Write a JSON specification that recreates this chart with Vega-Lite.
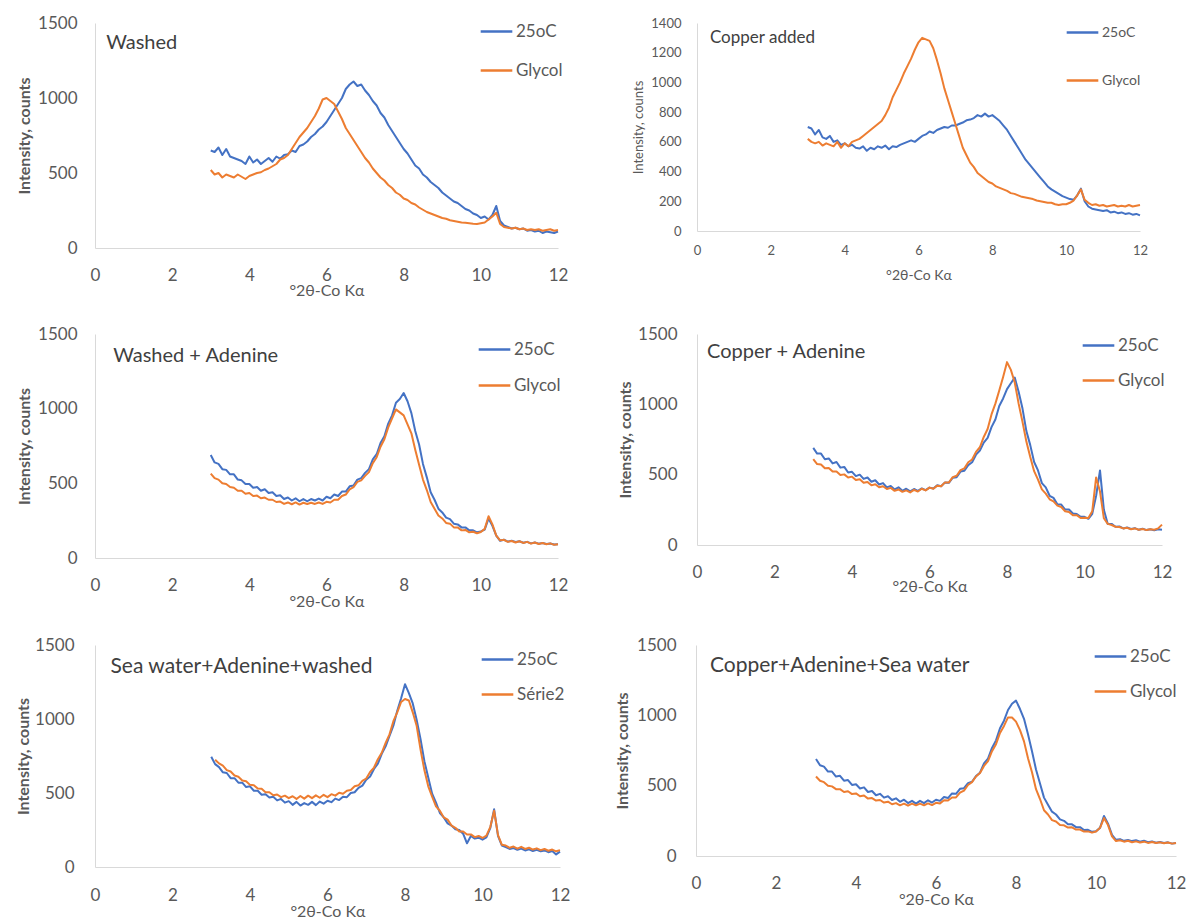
{
"$schema":"https://vega.github.io/schema/vega-lite/v6.json",
"padding":{"left":14,"top":14,"right":0,"bottom":0},
"spacing":27,
"resolve":{"scale":{"color":"independent"},"legend":{"color":"independent"}},
"vconcat":[
{"hconcat":[
{"width":463,"height":225,"layer":[
{"data":{"name":"p1"},"mark":{"type":"line","strokeWidth":2,"strokeJoin":"round"},"encoding":{
"x":{"field":"x","type":"quantitative","scale":{"domain":[0,12],"nice":false},"axis":{"values":[0,2,4,6,8,10,12],"title":"°2θ-Co Kα","labelFontSize":17,"labelPadding":19,"titleFontSize":16,"titleY":42,"titleBaseline":"middle"}},
"y":{"field":"y","type":"quantitative","scale":{"domain":[0,1500],"nice":false},"axis":{"values":[0,500,1000,1500],"format":"d","title":"Intensity, counts","labelFontSize":17,"labelPadding":18,"titleFontSize":16,"titleFontWeight":"bold","titleX":-71,"titleBaseline":"middle"}},
"color":{"field":"s","type":"nominal","scale":{"domain":["25oC","Glycol"],"range":["#4472C4","#ED7D31"]},"legend":{"title":null,"orient":"none","legendX":384,"legendY":-9,"labelFontSize":17,"rowPadding":13}}}},
{"data":{"values":[{"t":"Washed"}]},"mark":{"type":"text","align":"left","baseline":"middle","fontSize":20},"encoding":{
"x":{"datum":0.29,"type":"quantitative","axis":{"values":[0,2,4,6,8,10,12],"title":"°2θ-Co Kα","labelFontSize":17,"labelPadding":19,"titleFontSize":16,"titleY":42,"titleBaseline":"middle"}},
"y":{"datum":1367,"type":"quantitative","axis":{"values":[0,500,1000,1500],"format":"d","title":"Intensity, counts","labelFontSize":17,"labelPadding":18,"titleFontSize":16,"titleFontWeight":"bold","titleX":-71,"titleBaseline":"middle"}},
"text":{"field":"t"}}}
]},
{"width":443,"height":208,"layer":[
{"data":{"name":"p2"},"mark":{"type":"line","strokeWidth":2,"strokeJoin":"round"},"encoding":{
"x":{"field":"x","type":"quantitative","scale":{"domain":[0,12],"nice":false},"axis":{"values":[0,2,4,6,8,10,12],"title":"°2θ-Co Kα","labelFontSize":13,"labelPadding":13,"titleFontSize":14,"titleY":44,"titleBaseline":"middle"}},
"y":{"field":"y","type":"quantitative","scale":{"domain":[0,1400],"nice":false},"axis":{"values":[0,200,400,600,800,1000,1200,1400],"format":"d","title":"Intensity, counts","labelFontSize":13,"labelPadding":16,"titleFontSize":13,"titleX":-59,"titleBaseline":"middle"}},
"color":{"field":"s","type":"nominal","scale":{"domain":["25oC","Glycol"],"range":["#4472C4","#ED7D31"]},"legend":{"title":null,"orient":"none","legendX":368,"legendY":-8,"labelFontSize":14,"rowPadding":23}}}},
{"data":{"values":[{"t":"Copper added"}]},"mark":{"type":"text","align":"left","baseline":"middle","fontSize":17},"encoding":{
"x":{"datum":0.35,"type":"quantitative","axis":{"values":[0,2,4,6,8,10,12],"title":"°2θ-Co Kα","labelFontSize":13,"labelPadding":13,"titleFontSize":14,"titleY":44,"titleBaseline":"middle"}},
"y":{"datum":1299,"type":"quantitative","axis":{"values":[0,200,400,600,800,1000,1200,1400],"format":"d","title":"Intensity, counts","labelFontSize":13,"labelPadding":16,"titleFontSize":13,"titleX":-59,"titleBaseline":"middle"}},
"text":{"field":"t"}}}
]}
],"spacing":64,"resolve":{"scale":{"color":"independent"},"legend":{"color":"independent"}}},
{"hconcat":[
{"width":463,"height":224,"layer":[
{"data":{"name":"p3"},"mark":{"type":"line","strokeWidth":2,"strokeJoin":"round"},"encoding":{
"x":{"field":"x","type":"quantitative","scale":{"domain":[0,12],"nice":false},"axis":{"values":[0,2,4,6,8,10,12],"title":"°2θ-Co Kα","labelFontSize":17,"labelPadding":19,"titleFontSize":16,"titleY":43,"titleBaseline":"middle"}},
"y":{"field":"y","type":"quantitative","scale":{"domain":[0,1500],"nice":false},"axis":{"values":[0,500,1000,1500],"format":"d","title":"Intensity, counts","labelFontSize":17,"labelPadding":18,"titleFontSize":16,"titleFontWeight":"bold","titleX":-71,"titleBaseline":"middle"}},
"color":{"field":"s","type":"nominal","scale":{"domain":["25oC","Glycol"],"range":["#4472C4","#ED7D31"]},"legend":{"title":null,"orient":"none","legendX":382,"legendY":-2,"labelFontSize":17,"rowPadding":10}}}},
{"data":{"values":[{"t":"Washed + Adenine"}]},"mark":{"type":"text","align":"left","baseline":"middle","fontSize":20},"encoding":{
"x":{"datum":0.47,"type":"quantitative","axis":{"values":[0,2,4,6,8,10,12],"title":"°2θ-Co Kα","labelFontSize":17,"labelPadding":19,"titleFontSize":16,"titleY":43,"titleBaseline":"middle"}},
"y":{"datum":1353,"type":"quantitative","axis":{"values":[0,500,1000,1500],"format":"d","title":"Intensity, counts","labelFontSize":17,"labelPadding":18,"titleFontSize":16,"titleFontWeight":"bold","titleX":-71,"titleBaseline":"middle"}},
"text":{"field":"t"}}}
]},
{"width":465,"height":211,"layer":[
{"data":{"name":"p4"},"mark":{"type":"line","strokeWidth":2,"strokeJoin":"round"},"encoding":{
"x":{"field":"x","type":"quantitative","scale":{"domain":[0,12],"nice":false},"axis":{"values":[0,2,4,6,8,10,12],"title":"°2θ-Co Kα","labelFontSize":17,"labelPadding":19,"titleFontSize":16,"titleY":41,"titleBaseline":"middle"}},
"y":{"field":"y","type":"quantitative","scale":{"domain":[0,1500],"nice":false},"axis":{"values":[0,500,1000,1500],"format":"d","title":"Intensity, counts","labelFontSize":17,"labelPadding":20,"titleFontSize":16,"titleFontWeight":"bold","titleX":-72,"titleBaseline":"middle"}},
"color":{"field":"s","type":"nominal","scale":{"domain":["25oC","Glycol"],"range":["#4472C4","#ED7D31"]},"legend":{"title":null,"orient":"none","legendX":384,"legendY":-6,"labelFontSize":17,"rowPadding":9}}}},
{"data":{"values":[{"t":"Copper + Adenine"}]},"mark":{"type":"text","align":"left","baseline":"middle","fontSize":20},"encoding":{
"x":{"datum":0.26,"type":"quantitative","axis":{"values":[0,2,4,6,8,10,12],"title":"°2θ-Co Kα","labelFontSize":17,"labelPadding":19,"titleFontSize":16,"titleY":41,"titleBaseline":"middle"}},
"y":{"datum":1372,"type":"quantitative","axis":{"values":[0,500,1000,1500],"format":"d","title":"Intensity, counts","labelFontSize":17,"labelPadding":20,"titleFontSize":16,"titleFontWeight":"bold","titleX":-72,"titleBaseline":"middle"}},
"text":{"field":"t"}}}
]}
],"spacing":48,"resolve":{"scale":{"color":"independent"},"legend":{"color":"independent"}}},
{"hconcat":[
{"width":465,"height":222,"layer":[
{"data":{"name":"p5"},"mark":{"type":"line","strokeWidth":2,"strokeJoin":"round"},"encoding":{
"x":{"field":"x","type":"quantitative","scale":{"domain":[0,12],"nice":false},"axis":{"values":[0,2,4,6,8,10,12],"title":"°2θ-Co Kα","labelFontSize":17,"labelPadding":20,"titleFontSize":16,"titleY":44,"titleBaseline":"middle"}},
"y":{"field":"y","type":"quantitative","scale":{"domain":[0,1500],"nice":false},"axis":{"values":[0,500,1000,1500],"format":"d","title":"Intensity, counts","labelFontSize":17,"labelPadding":21,"titleFontSize":16,"titleFontWeight":"bold","titleX":-72,"titleBaseline":"middle"}},
"color":{"field":"s","type":"nominal","scale":{"domain":["25oC","Série2"],"range":["#4472C4","#ED7D31"]},"legend":{"title":null,"orient":"none","legendX":385,"legendY":-3,"labelFontSize":17,"rowPadding":9}}}},
{"data":{"values":[{"t":"Sea water+Adenine+washed"}]},"mark":{"type":"text","align":"left","baseline":"middle","fontSize":21},"encoding":{
"x":{"datum":0.4,"type":"quantitative","axis":{"values":[0,2,4,6,8,10,12],"title":"°2θ-Co Kα","labelFontSize":17,"labelPadding":20,"titleFontSize":16,"titleY":44,"titleBaseline":"middle"}},
"y":{"datum":1351,"type":"quantitative","axis":{"values":[0,500,1000,1500],"format":"d","title":"Intensity, counts","labelFontSize":17,"labelPadding":21,"titleFontSize":16,"titleFontWeight":"bold","titleX":-72,"titleBaseline":"middle"}},
"text":{"field":"t"}}}
]},
{"width":480,"height":211,"layer":[
{"data":{"name":"p6"},"mark":{"type":"line","strokeWidth":2,"strokeJoin":"round"},"encoding":{
"x":{"field":"x","type":"quantitative","scale":{"domain":[0,12],"nice":false},"axis":{"values":[0,2,4,6,8,10,12],"title":"°2θ-Co Kα","labelFontSize":17,"labelPadding":19,"titleFontSize":16,"titleY":43,"titleBaseline":"middle"}},
"y":{"field":"y","type":"quantitative","scale":{"domain":[0,1500],"nice":false},"axis":{"values":[0,500,1000,1500],"format":"d","title":"Intensity, counts","labelFontSize":17,"labelPadding":20,"titleFontSize":16,"titleFontWeight":"bold","titleX":-74,"titleBaseline":"middle"}},
"color":{"field":"s","type":"nominal","scale":{"domain":["25oC","Glycol"],"range":["#4472C4","#ED7D31"]},"legend":{"title":null,"orient":"none","legendX":397,"legendY":-6,"labelFontSize":17,"rowPadding":9}}}},
{"data":{"values":[{"t":"Copper+Adenine+Sea water"}]},"mark":{"type":"text","align":"left","baseline":"middle","fontSize":21},"encoding":{
"x":{"datum":0.35,"type":"quantitative","axis":{"values":[0,2,4,6,8,10,12],"title":"°2θ-Co Kα","labelFontSize":17,"labelPadding":19,"titleFontSize":16,"titleY":43,"titleBaseline":"middle"}},
"y":{"datum":1351,"type":"quantitative","axis":{"values":[0,500,1000,1500],"format":"d","title":"Intensity, counts","labelFontSize":17,"labelPadding":20,"titleFontSize":16,"titleFontWeight":"bold","titleX":-74,"titleBaseline":"middle"}},
"text":{"field":"t"}}}
]}
],"spacing":43,"resolve":{"scale":{"color":"independent"},"legend":{"color":"independent"}}}
],
"datasets":{
"p1":[
{"x":3.0,"s":"25oC","y":650},{"x":3.1,"s":"25oC","y":640},{"x":3.2,"s":"25oC","y":670},{"x":3.3,"s":"25oC","y":620},{"x":3.4,"s":"25oC","y":660},{"x":3.5,"s":"25oC","y":610},{"x":3.6,"s":"25oC","y":600},{"x":3.7,"s":"25oC","y":590},{"x":3.8,"s":"25oC","y":580},{"x":3.9,"s":"25oC","y":560},{"x":4.0,"s":"25oC","y":610},{"x":4.1,"s":"25oC","y":570},{"x":4.2,"s":"25oC","y":590},{"x":4.3,"s":"25oC","y":560},{"x":4.4,"s":"25oC","y":580},{"x":4.5,"s":"25oC","y":600},{"x":4.6,"s":"25oC","y":575},{"x":4.7,"s":"25oC","y":610},{"x":4.8,"s":"25oC","y":595},{"x":4.9,"s":"25oC","y":620},{"x":5.0,"s":"25oC","y":625},{"x":5.1,"s":"25oC","y":650},{"x":5.2,"s":"25oC","y":640},{"x":5.3,"s":"25oC","y":680},{"x":5.4,"s":"25oC","y":690},{"x":5.5,"s":"25oC","y":710},{"x":5.6,"s":"25oC","y":740},{"x":5.7,"s":"25oC","y":760},{"x":5.8,"s":"25oC","y":790},{"x":5.9,"s":"25oC","y":810},{"x":6.0,"s":"25oC","y":840},{"x":6.1,"s":"25oC","y":880},{"x":6.2,"s":"25oC","y":920},{"x":6.3,"s":"25oC","y":960},{"x":6.4,"s":"25oC","y":1000},{"x":6.5,"s":"25oC","y":1060},{"x":6.6,"s":"25oC","y":1090},{"x":6.7,"s":"25oC","y":1110},{"x":6.8,"s":"25oC","y":1080},{"x":6.9,"s":"25oC","y":1090},{"x":7.0,"s":"25oC","y":1050},{"x":7.1,"s":"25oC","y":1020},{"x":7.2,"s":"25oC","y":980},{"x":7.3,"s":"25oC","y":950},{"x":7.4,"s":"25oC","y":900},{"x":7.5,"s":"25oC","y":870},{"x":7.6,"s":"25oC","y":820},{"x":7.7,"s":"25oC","y":780},{"x":7.8,"s":"25oC","y":740},{"x":7.9,"s":"25oC","y":700},{"x":8.0,"s":"25oC","y":660},{"x":8.1,"s":"25oC","y":630},{"x":8.2,"s":"25oC","y":590},{"x":8.3,"s":"25oC","y":550},{"x":8.4,"s":"25oC","y":530},{"x":8.5,"s":"25oC","y":490},{"x":8.6,"s":"25oC","y":470},{"x":8.7,"s":"25oC","y":440},{"x":8.8,"s":"25oC","y":420},{"x":8.9,"s":"25oC","y":400},{"x":9.0,"s":"25oC","y":370},{"x":9.1,"s":"25oC","y":350},{"x":9.2,"s":"25oC","y":330},{"x":9.3,"s":"25oC","y":310},{"x":9.4,"s":"25oC","y":300},{"x":9.5,"s":"25oC","y":280},{"x":9.6,"s":"25oC","y":260},{"x":9.7,"s":"25oC","y":250},{"x":9.8,"s":"25oC","y":230},{"x":9.9,"s":"25oC","y":220},{"x":10.0,"s":"25oC","y":200},{"x":10.1,"s":"25oC","y":210},{"x":10.2,"s":"25oC","y":190},{"x":10.3,"s":"25oC","y":220},{"x":10.4,"s":"25oC","y":280},{"x":10.5,"s":"25oC","y":180},{"x":10.6,"s":"25oC","y":150},{"x":10.7,"s":"25oC","y":140},{"x":10.8,"s":"25oC","y":130},{"x":10.9,"s":"25oC","y":135},{"x":11.0,"s":"25oC","y":125},{"x":11.1,"s":"25oC","y":130},{"x":11.2,"s":"25oC","y":115},{"x":11.3,"s":"25oC","y":120},{"x":11.4,"s":"25oC","y":110},{"x":11.5,"s":"25oC","y":115},{"x":11.6,"s":"25oC","y":100},{"x":11.7,"s":"25oC","y":110},{"x":11.8,"s":"25oC","y":105},{"x":11.9,"s":"25oC","y":100},{"x":12.0,"s":"25oC","y":110},
{"x":3.0,"s":"Glycol","y":520},{"x":3.1,"s":"Glycol","y":490},{"x":3.2,"s":"Glycol","y":500},{"x":3.3,"s":"Glycol","y":470},{"x":3.4,"s":"Glycol","y":490},{"x":3.5,"s":"Glycol","y":480},{"x":3.6,"s":"Glycol","y":470},{"x":3.7,"s":"Glycol","y":490},{"x":3.8,"s":"Glycol","y":475},{"x":3.9,"s":"Glycol","y":460},{"x":4.0,"s":"Glycol","y":480},{"x":4.1,"s":"Glycol","y":490},{"x":4.2,"s":"Glycol","y":500},{"x":4.3,"s":"Glycol","y":505},{"x":4.4,"s":"Glycol","y":520},{"x":4.5,"s":"Glycol","y":530},{"x":4.6,"s":"Glycol","y":545},{"x":4.7,"s":"Glycol","y":560},{"x":4.8,"s":"Glycol","y":590},{"x":4.9,"s":"Glycol","y":600},{"x":5.0,"s":"Glycol","y":620},{"x":5.1,"s":"Glycol","y":660},{"x":5.2,"s":"Glycol","y":700},{"x":5.3,"s":"Glycol","y":740},{"x":5.4,"s":"Glycol","y":770},{"x":5.5,"s":"Glycol","y":800},{"x":5.6,"s":"Glycol","y":840},{"x":5.7,"s":"Glycol","y":880},{"x":5.8,"s":"Glycol","y":930},{"x":5.9,"s":"Glycol","y":990},{"x":6.0,"s":"Glycol","y":1000},{"x":6.1,"s":"Glycol","y":980},{"x":6.2,"s":"Glycol","y":960},{"x":6.3,"s":"Glycol","y":910},{"x":6.4,"s":"Glycol","y":860},{"x":6.5,"s":"Glycol","y":800},{"x":6.6,"s":"Glycol","y":760},{"x":6.7,"s":"Glycol","y":720},{"x":6.8,"s":"Glycol","y":680},{"x":6.9,"s":"Glycol","y":640},{"x":7.0,"s":"Glycol","y":600},{"x":7.1,"s":"Glycol","y":570},{"x":7.2,"s":"Glycol","y":530},{"x":7.3,"s":"Glycol","y":500},{"x":7.4,"s":"Glycol","y":470},{"x":7.5,"s":"Glycol","y":450},{"x":7.6,"s":"Glycol","y":420},{"x":7.7,"s":"Glycol","y":400},{"x":7.8,"s":"Glycol","y":370},{"x":7.9,"s":"Glycol","y":355},{"x":8.0,"s":"Glycol","y":330},{"x":8.1,"s":"Glycol","y":320},{"x":8.2,"s":"Glycol","y":300},{"x":8.3,"s":"Glycol","y":290},{"x":8.4,"s":"Glycol","y":270},{"x":8.5,"s":"Glycol","y":255},{"x":8.6,"s":"Glycol","y":240},{"x":8.7,"s":"Glycol","y":230},{"x":8.8,"s":"Glycol","y":220},{"x":8.9,"s":"Glycol","y":210},{"x":9.0,"s":"Glycol","y":200},{"x":9.1,"s":"Glycol","y":195},{"x":9.2,"s":"Glycol","y":185},{"x":9.3,"s":"Glycol","y":180},{"x":9.4,"s":"Glycol","y":175},{"x":9.5,"s":"Glycol","y":170},{"x":9.6,"s":"Glycol","y":168},{"x":9.7,"s":"Glycol","y":165},{"x":9.8,"s":"Glycol","y":162},{"x":9.9,"s":"Glycol","y":160},{"x":10.0,"s":"Glycol","y":165},{"x":10.1,"s":"Glycol","y":170},{"x":10.2,"s":"Glycol","y":190},{"x":10.3,"s":"Glycol","y":210},{"x":10.4,"s":"Glycol","y":235},{"x":10.5,"s":"Glycol","y":160},{"x":10.6,"s":"Glycol","y":140},{"x":10.7,"s":"Glycol","y":135},{"x":10.8,"s":"Glycol","y":130},{"x":10.9,"s":"Glycol","y":135},{"x":11.0,"s":"Glycol","y":125},{"x":11.1,"s":"Glycol","y":130},{"x":11.2,"s":"Glycol","y":120},{"x":11.3,"s":"Glycol","y":125},{"x":11.4,"s":"Glycol","y":120},{"x":11.5,"s":"Glycol","y":125},{"x":11.6,"s":"Glycol","y":115},{"x":11.7,"s":"Glycol","y":120},{"x":11.8,"s":"Glycol","y":125},{"x":11.9,"s":"Glycol","y":115},{"x":12.0,"s":"Glycol","y":120}
],
"p2":[
{"x":3.0,"s":"25oC","y":700},{"x":3.1,"s":"25oC","y":690},{"x":3.2,"s":"25oC","y":650},{"x":3.3,"s":"25oC","y":680},{"x":3.4,"s":"25oC","y":630},{"x":3.5,"s":"25oC","y":620},{"x":3.6,"s":"25oC","y":640},{"x":3.7,"s":"25oC","y":600},{"x":3.8,"s":"25oC","y":610},{"x":3.9,"s":"25oC","y":580},{"x":4.0,"s":"25oC","y":590},{"x":4.1,"s":"25oC","y":570},{"x":4.2,"s":"25oC","y":580},{"x":4.3,"s":"25oC","y":560},{"x":4.4,"s":"25oC","y":555},{"x":4.5,"s":"25oC","y":570},{"x":4.6,"s":"25oC","y":540},{"x":4.7,"s":"25oC","y":560},{"x":4.8,"s":"25oC","y":550},{"x":4.9,"s":"25oC","y":570},{"x":5.0,"s":"25oC","y":560},{"x":5.1,"s":"25oC","y":575},{"x":5.2,"s":"25oC","y":550},{"x":5.3,"s":"25oC","y":570},{"x":5.4,"s":"25oC","y":565},{"x":5.5,"s":"25oC","y":580},{"x":5.6,"s":"25oC","y":590},{"x":5.7,"s":"25oC","y":600},{"x":5.8,"s":"25oC","y":610},{"x":5.9,"s":"25oC","y":600},{"x":6.0,"s":"25oC","y":620},{"x":6.1,"s":"25oC","y":640},{"x":6.2,"s":"25oC","y":650},{"x":6.3,"s":"25oC","y":670},{"x":6.4,"s":"25oC","y":660},{"x":6.5,"s":"25oC","y":680},{"x":6.6,"s":"25oC","y":690},{"x":6.7,"s":"25oC","y":700},{"x":6.8,"s":"25oC","y":695},{"x":6.9,"s":"25oC","y":710},{"x":7.0,"s":"25oC","y":710},{"x":7.1,"s":"25oC","y":720},{"x":7.2,"s":"25oC","y":730},{"x":7.3,"s":"25oC","y":745},{"x":7.4,"s":"25oC","y":750},{"x":7.5,"s":"25oC","y":760},{"x":7.6,"s":"25oC","y":780},{"x":7.7,"s":"25oC","y":770},{"x":7.8,"s":"25oC","y":790},{"x":7.9,"s":"25oC","y":770},{"x":8.0,"s":"25oC","y":780},{"x":8.1,"s":"25oC","y":760},{"x":8.2,"s":"25oC","y":740},{"x":8.3,"s":"25oC","y":710},{"x":8.4,"s":"25oC","y":680},{"x":8.5,"s":"25oC","y":640},{"x":8.6,"s":"25oC","y":600},{"x":8.7,"s":"25oC","y":560},{"x":8.8,"s":"25oC","y":520},{"x":8.9,"s":"25oC","y":480},{"x":9.0,"s":"25oC","y":450},{"x":9.1,"s":"25oC","y":420},{"x":9.2,"s":"25oC","y":390},{"x":9.3,"s":"25oC","y":360},{"x":9.4,"s":"25oC","y":330},{"x":9.5,"s":"25oC","y":300},{"x":9.6,"s":"25oC","y":280},{"x":9.7,"s":"25oC","y":265},{"x":9.8,"s":"25oC","y":250},{"x":9.9,"s":"25oC","y":235},{"x":10.0,"s":"25oC","y":225},{"x":10.1,"s":"25oC","y":215},{"x":10.2,"s":"25oC","y":210},{"x":10.3,"s":"25oC","y":240},{"x":10.4,"s":"25oC","y":285},{"x":10.5,"s":"25oC","y":200},{"x":10.6,"s":"25oC","y":165},{"x":10.7,"s":"25oC","y":150},{"x":10.8,"s":"25oC","y":145},{"x":10.9,"s":"25oC","y":140},{"x":11.0,"s":"25oC","y":135},{"x":11.1,"s":"25oC","y":140},{"x":11.2,"s":"25oC","y":125},{"x":11.3,"s":"25oC","y":130},{"x":11.4,"s":"25oC","y":120},{"x":11.5,"s":"25oC","y":125},{"x":11.6,"s":"25oC","y":115},{"x":11.7,"s":"25oC","y":120},{"x":11.8,"s":"25oC","y":110},{"x":11.9,"s":"25oC","y":115},{"x":12.0,"s":"25oC","y":105},
{"x":3.0,"s":"Glycol","y":620},{"x":3.1,"s":"Glycol","y":600},{"x":3.2,"s":"Glycol","y":590},{"x":3.3,"s":"Glycol","y":600},{"x":3.4,"s":"Glycol","y":575},{"x":3.5,"s":"Glycol","y":590},{"x":3.6,"s":"Glycol","y":580},{"x":3.7,"s":"Glycol","y":570},{"x":3.8,"s":"Glycol","y":600},{"x":3.9,"s":"Glycol","y":560},{"x":4.0,"s":"Glycol","y":590},{"x":4.1,"s":"Glycol","y":570},{"x":4.2,"s":"Glycol","y":600},{"x":4.3,"s":"Glycol","y":610},{"x":4.4,"s":"Glycol","y":620},{"x":4.5,"s":"Glycol","y":640},{"x":4.6,"s":"Glycol","y":660},{"x":4.7,"s":"Glycol","y":680},{"x":4.8,"s":"Glycol","y":700},{"x":4.9,"s":"Glycol","y":720},{"x":5.0,"s":"Glycol","y":740},{"x":5.1,"s":"Glycol","y":780},{"x":5.2,"s":"Glycol","y":830},{"x":5.3,"s":"Glycol","y":900},{"x":5.4,"s":"Glycol","y":950},{"x":5.5,"s":"Glycol","y":1000},{"x":5.6,"s":"Glycol","y":1060},{"x":5.7,"s":"Glycol","y":1110},{"x":5.8,"s":"Glycol","y":1160},{"x":5.9,"s":"Glycol","y":1220},{"x":6.0,"s":"Glycol","y":1270},{"x":6.1,"s":"Glycol","y":1300},{"x":6.2,"s":"Glycol","y":1290},{"x":6.3,"s":"Glycol","y":1280},{"x":6.4,"s":"Glycol","y":1230},{"x":6.5,"s":"Glycol","y":1150},{"x":6.6,"s":"Glycol","y":1060},{"x":6.7,"s":"Glycol","y":960},{"x":6.8,"s":"Glycol","y":880},{"x":6.9,"s":"Glycol","y":800},{"x":7.0,"s":"Glycol","y":720},{"x":7.1,"s":"Glycol","y":640},{"x":7.2,"s":"Glycol","y":560},{"x":7.3,"s":"Glycol","y":510},{"x":7.4,"s":"Glycol","y":460},{"x":7.5,"s":"Glycol","y":430},{"x":7.6,"s":"Glycol","y":390},{"x":7.7,"s":"Glycol","y":370},{"x":7.8,"s":"Glycol","y":350},{"x":7.9,"s":"Glycol","y":330},{"x":8.0,"s":"Glycol","y":320},{"x":8.1,"s":"Glycol","y":300},{"x":8.2,"s":"Glycol","y":290},{"x":8.3,"s":"Glycol","y":280},{"x":8.4,"s":"Glycol","y":270},{"x":8.5,"s":"Glycol","y":255},{"x":8.6,"s":"Glycol","y":250},{"x":8.7,"s":"Glycol","y":240},{"x":8.8,"s":"Glycol","y":230},{"x":8.9,"s":"Glycol","y":225},{"x":9.0,"s":"Glycol","y":220},{"x":9.1,"s":"Glycol","y":215},{"x":9.2,"s":"Glycol","y":205},{"x":9.3,"s":"Glycol","y":200},{"x":9.4,"s":"Glycol","y":195},{"x":9.5,"s":"Glycol","y":190},{"x":9.6,"s":"Glycol","y":190},{"x":9.7,"s":"Glycol","y":180},{"x":9.8,"s":"Glycol","y":175},{"x":9.9,"s":"Glycol","y":180},{"x":10.0,"s":"Glycol","y":180},{"x":10.1,"s":"Glycol","y":190},{"x":10.2,"s":"Glycol","y":205},{"x":10.3,"s":"Glycol","y":240},{"x":10.4,"s":"Glycol","y":280},{"x":10.5,"s":"Glycol","y":210},{"x":10.6,"s":"Glycol","y":190},{"x":10.7,"s":"Glycol","y":175},{"x":10.8,"s":"Glycol","y":180},{"x":10.9,"s":"Glycol","y":170},{"x":11.0,"s":"Glycol","y":175},{"x":11.1,"s":"Glycol","y":165},{"x":11.2,"s":"Glycol","y":170},{"x":11.3,"s":"Glycol","y":175},{"x":11.4,"s":"Glycol","y":165},{"x":11.5,"s":"Glycol","y":170},{"x":11.6,"s":"Glycol","y":165},{"x":11.7,"s":"Glycol","y":175},{"x":11.8,"s":"Glycol","y":165},{"x":11.9,"s":"Glycol","y":170},{"x":12.0,"s":"Glycol","y":175}
],
"p3":[
{"x":3.0,"s":"25oC","y":690},{"x":3.1,"s":"25oC","y":640},{"x":3.2,"s":"25oC","y":630},{"x":3.3,"s":"25oC","y":595},{"x":3.4,"s":"25oC","y":590},{"x":3.5,"s":"25oC","y":560},{"x":3.6,"s":"25oC","y":560},{"x":3.7,"s":"25oC","y":525},{"x":3.8,"s":"25oC","y":520},{"x":3.9,"s":"25oC","y":495},{"x":4.0,"s":"25oC","y":495},{"x":4.1,"s":"25oC","y":470},{"x":4.2,"s":"25oC","y":475},{"x":4.3,"s":"25oC","y":450},{"x":4.4,"s":"25oC","y":460},{"x":4.5,"s":"25oC","y":435},{"x":4.6,"s":"25oC","y":440},{"x":4.7,"s":"25oC","y":415},{"x":4.8,"s":"25oC","y":420},{"x":4.9,"s":"25oC","y":395},{"x":5.0,"s":"25oC","y":405},{"x":5.1,"s":"25oC","y":385},{"x":5.2,"s":"25oC","y":400},{"x":5.3,"s":"25oC","y":380},{"x":5.4,"s":"25oC","y":395},{"x":5.5,"s":"25oC","y":380},{"x":5.6,"s":"25oC","y":395},{"x":5.7,"s":"25oC","y":385},{"x":5.8,"s":"25oC","y":398},{"x":5.9,"s":"25oC","y":385},{"x":6.0,"s":"25oC","y":410},{"x":6.1,"s":"25oC","y":400},{"x":6.2,"s":"25oC","y":425},{"x":6.3,"s":"25oC","y":415},{"x":6.4,"s":"25oC","y":445},{"x":6.5,"s":"25oC","y":445},{"x":6.6,"s":"25oC","y":480},{"x":6.7,"s":"25oC","y":485},{"x":6.8,"s":"25oC","y":525},{"x":6.9,"s":"25oC","y":535},{"x":7.0,"s":"25oC","y":570},{"x":7.1,"s":"25oC","y":595},{"x":7.2,"s":"25oC","y":660},{"x":7.3,"s":"25oC","y":695},{"x":7.4,"s":"25oC","y":770},{"x":7.5,"s":"25oC","y":815},{"x":7.6,"s":"25oC","y":900},{"x":7.7,"s":"25oC","y":955},{"x":7.8,"s":"25oC","y":1040},{"x":7.9,"s":"25oC","y":1065},{"x":8.0,"s":"25oC","y":1105},{"x":8.1,"s":"25oC","y":1050},{"x":8.2,"s":"25oC","y":970},{"x":8.3,"s":"25oC","y":850},{"x":8.4,"s":"25oC","y":760},{"x":8.5,"s":"25oC","y":630},{"x":8.6,"s":"25oC","y":540},{"x":8.7,"s":"25oC","y":440},{"x":8.8,"s":"25oC","y":390},{"x":8.9,"s":"25oC","y":330},{"x":9.0,"s":"25oC","y":305},{"x":9.1,"s":"25oC","y":270},{"x":9.2,"s":"25oC","y":260},{"x":9.3,"s":"25oC","y":230},{"x":9.4,"s":"25oC","y":225},{"x":9.5,"s":"25oC","y":205},{"x":9.6,"s":"25oC","y":205},{"x":9.7,"s":"25oC","y":185},{"x":9.8,"s":"25oC","y":185},{"x":9.9,"s":"25oC","y":172},{"x":10.0,"s":"25oC","y":178},{"x":10.1,"s":"25oC","y":190},{"x":10.2,"s":"25oC","y":265},{"x":10.3,"s":"25oC","y":215},{"x":10.4,"s":"25oC","y":150},{"x":10.5,"s":"25oC","y":115},{"x":10.6,"s":"25oC","y":122},{"x":10.7,"s":"25oC","y":110},{"x":10.8,"s":"25oC","y":115},{"x":10.9,"s":"25oC","y":108},{"x":11.0,"s":"25oC","y":112},{"x":11.1,"s":"25oC","y":102},{"x":11.2,"s":"25oC","y":108},{"x":11.3,"s":"25oC","y":98},{"x":11.4,"s":"25oC","y":104},{"x":11.5,"s":"25oC","y":96},{"x":11.6,"s":"25oC","y":100},{"x":11.7,"s":"25oC","y":94},{"x":11.8,"s":"25oC","y":97},{"x":11.9,"s":"25oC","y":90},{"x":12.0,"s":"25oC","y":92},
{"x":3.0,"s":"Glycol","y":565},{"x":3.1,"s":"Glycol","y":535},{"x":3.2,"s":"Glycol","y":525},{"x":3.3,"s":"Glycol","y":500},{"x":3.4,"s":"Glycol","y":495},{"x":3.5,"s":"Glycol","y":475},{"x":3.6,"s":"Glycol","y":470},{"x":3.7,"s":"Glycol","y":450},{"x":3.8,"s":"Glycol","y":450},{"x":3.9,"s":"Glycol","y":430},{"x":4.0,"s":"Glycol","y":435},{"x":4.1,"s":"Glycol","y":415},{"x":4.2,"s":"Glycol","y":418},{"x":4.3,"s":"Glycol","y":400},{"x":4.4,"s":"Glycol","y":405},{"x":4.5,"s":"Glycol","y":390},{"x":4.6,"s":"Glycol","y":390},{"x":4.7,"s":"Glycol","y":375},{"x":4.8,"s":"Glycol","y":378},{"x":4.9,"s":"Glycol","y":362},{"x":5.0,"s":"Glycol","y":372},{"x":5.1,"s":"Glycol","y":360},{"x":5.2,"s":"Glycol","y":372},{"x":5.3,"s":"Glycol","y":358},{"x":5.4,"s":"Glycol","y":370},{"x":5.5,"s":"Glycol","y":362},{"x":5.6,"s":"Glycol","y":370},{"x":5.7,"s":"Glycol","y":362},{"x":5.8,"s":"Glycol","y":372},{"x":5.9,"s":"Glycol","y":362},{"x":6.0,"s":"Glycol","y":376},{"x":6.1,"s":"Glycol","y":372},{"x":6.2,"s":"Glycol","y":390},{"x":6.3,"s":"Glycol","y":390},{"x":6.4,"s":"Glycol","y":415},{"x":6.5,"s":"Glycol","y":425},{"x":6.6,"s":"Glycol","y":460},{"x":6.7,"s":"Glycol","y":475},{"x":6.8,"s":"Glycol","y":510},{"x":6.9,"s":"Glycol","y":520},{"x":7.0,"s":"Glycol","y":550},{"x":7.1,"s":"Glycol","y":575},{"x":7.2,"s":"Glycol","y":635},{"x":7.3,"s":"Glycol","y":675},{"x":7.4,"s":"Glycol","y":745},{"x":7.5,"s":"Glycol","y":795},{"x":7.6,"s":"Glycol","y":875},{"x":7.7,"s":"Glycol","y":935},{"x":7.8,"s":"Glycol","y":995},{"x":7.9,"s":"Glycol","y":975},{"x":8.0,"s":"Glycol","y":955},{"x":8.1,"s":"Glycol","y":895},{"x":8.2,"s":"Glycol","y":835},{"x":8.3,"s":"Glycol","y":725},{"x":8.4,"s":"Glycol","y":625},{"x":8.5,"s":"Glycol","y":525},{"x":8.6,"s":"Glycol","y":455},{"x":8.7,"s":"Glycol","y":375},{"x":8.8,"s":"Glycol","y":330},{"x":8.9,"s":"Glycol","y":285},{"x":9.0,"s":"Glycol","y":265},{"x":9.1,"s":"Glycol","y":235},{"x":9.2,"s":"Glycol","y":230},{"x":9.3,"s":"Glycol","y":205},{"x":9.4,"s":"Glycol","y":205},{"x":9.5,"s":"Glycol","y":185},{"x":9.6,"s":"Glycol","y":188},{"x":9.7,"s":"Glycol","y":172},{"x":9.8,"s":"Glycol","y":176},{"x":9.9,"s":"Glycol","y":166},{"x":10.0,"s":"Glycol","y":174},{"x":10.1,"s":"Glycol","y":195},{"x":10.2,"s":"Glycol","y":280},{"x":10.3,"s":"Glycol","y":225},{"x":10.4,"s":"Glycol","y":150},{"x":10.5,"s":"Glycol","y":118},{"x":10.6,"s":"Glycol","y":122},{"x":10.7,"s":"Glycol","y":108},{"x":10.8,"s":"Glycol","y":114},{"x":10.9,"s":"Glycol","y":104},{"x":11.0,"s":"Glycol","y":112},{"x":11.1,"s":"Glycol","y":101},{"x":11.2,"s":"Glycol","y":108},{"x":11.3,"s":"Glycol","y":96},{"x":11.4,"s":"Glycol","y":104},{"x":11.5,"s":"Glycol","y":94},{"x":11.6,"s":"Glycol","y":100},{"x":11.7,"s":"Glycol","y":92},{"x":11.8,"s":"Glycol","y":98},{"x":11.9,"s":"Glycol","y":88},{"x":12.0,"s":"Glycol","y":92}
],
"p4":[
{"x":3.0,"s":"25oC","y":690},{"x":3.1,"s":"25oC","y":650},{"x":3.2,"s":"25oC","y":650},{"x":3.3,"s":"25oC","y":610},{"x":3.4,"s":"25oC","y":615},{"x":3.5,"s":"25oC","y":580},{"x":3.6,"s":"25oC","y":590},{"x":3.7,"s":"25oC","y":550},{"x":3.8,"s":"25oC","y":555},{"x":3.9,"s":"25oC","y":515},{"x":4.0,"s":"25oC","y":520},{"x":4.1,"s":"25oC","y":490},{"x":4.2,"s":"25oC","y":500},{"x":4.3,"s":"25oC","y":470},{"x":4.4,"s":"25oC","y":480},{"x":4.5,"s":"25oC","y":450},{"x":4.6,"s":"25oC","y":460},{"x":4.7,"s":"25oC","y":430},{"x":4.8,"s":"25oC","y":440},{"x":4.9,"s":"25oC","y":410},{"x":5.0,"s":"25oC","y":420},{"x":5.1,"s":"25oC","y":395},{"x":5.2,"s":"25oC","y":410},{"x":5.3,"s":"25oC","y":385},{"x":5.4,"s":"25oC","y":400},{"x":5.5,"s":"25oC","y":382},{"x":5.6,"s":"25oC","y":398},{"x":5.7,"s":"25oC","y":385},{"x":5.8,"s":"25oC","y":402},{"x":5.9,"s":"25oC","y":390},{"x":6.0,"s":"25oC","y":408},{"x":6.1,"s":"25oC","y":402},{"x":6.2,"s":"25oC","y":425},{"x":6.3,"s":"25oC","y":418},{"x":6.4,"s":"25oC","y":445},{"x":6.5,"s":"25oC","y":442},{"x":6.6,"s":"25oC","y":478},{"x":6.7,"s":"25oC","y":482},{"x":6.8,"s":"25oC","y":522},{"x":6.9,"s":"25oC","y":528},{"x":7.0,"s":"25oC","y":568},{"x":7.1,"s":"25oC","y":588},{"x":7.2,"s":"25oC","y":642},{"x":7.3,"s":"25oC","y":672},{"x":7.4,"s":"25oC","y":728},{"x":7.5,"s":"25oC","y":762},{"x":7.6,"s":"25oC","y":838},{"x":7.7,"s":"25oC","y":892},{"x":7.8,"s":"25oC","y":988},{"x":7.9,"s":"25oC","y":1042},{"x":8.0,"s":"25oC","y":1108},{"x":8.1,"s":"25oC","y":1150},{"x":8.2,"s":"25oC","y":1190},{"x":8.3,"s":"25oC","y":1090},{"x":8.4,"s":"25oC","y":970},{"x":8.5,"s":"25oC","y":810},{"x":8.6,"s":"25oC","y":710},{"x":8.7,"s":"25oC","y":590},{"x":8.8,"s":"25oC","y":530},{"x":8.9,"s":"25oC","y":440},{"x":9.0,"s":"25oC","y":410},{"x":9.1,"s":"25oC","y":350},{"x":9.2,"s":"25oC","y":335},{"x":9.3,"s":"25oC","y":290},{"x":9.4,"s":"25oC","y":288},{"x":9.5,"s":"25oC","y":252},{"x":9.6,"s":"25oC","y":252},{"x":9.7,"s":"25oC","y":224},{"x":9.8,"s":"25oC","y":220},{"x":9.9,"s":"25oC","y":200},{"x":10.0,"s":"25oC","y":200},{"x":10.1,"s":"25oC","y":186},{"x":10.2,"s":"25oC","y":222},{"x":10.3,"s":"25oC","y":350},{"x":10.4,"s":"25oC","y":530},{"x":10.5,"s":"25oC","y":250},{"x":10.6,"s":"25oC","y":150},{"x":10.7,"s":"25oC","y":150},{"x":10.8,"s":"25oC","y":130},{"x":10.9,"s":"25oC","y":132},{"x":11.0,"s":"25oC","y":118},{"x":11.1,"s":"25oC","y":124},{"x":11.2,"s":"25oC","y":114},{"x":11.3,"s":"25oC","y":120},{"x":11.4,"s":"25oC","y":108},{"x":11.5,"s":"25oC","y":116},{"x":11.6,"s":"25oC","y":106},{"x":11.7,"s":"25oC","y":112},{"x":11.8,"s":"25oC","y":104},{"x":11.9,"s":"25oC","y":112},{"x":12.0,"s":"25oC","y":108},
{"x":3.0,"s":"Glycol","y":610},{"x":3.1,"s":"Glycol","y":575},{"x":3.2,"s":"Glycol","y":572},{"x":3.3,"s":"Glycol","y":545},{"x":3.4,"s":"Glycol","y":548},{"x":3.5,"s":"Glycol","y":522},{"x":3.6,"s":"Glycol","y":522},{"x":3.7,"s":"Glycol","y":498},{"x":3.8,"s":"Glycol","y":502},{"x":3.9,"s":"Glycol","y":480},{"x":4.0,"s":"Glycol","y":486},{"x":4.1,"s":"Glycol","y":462},{"x":4.2,"s":"Glycol","y":468},{"x":4.3,"s":"Glycol","y":442},{"x":4.4,"s":"Glycol","y":448},{"x":4.5,"s":"Glycol","y":424},{"x":4.6,"s":"Glycol","y":432},{"x":4.7,"s":"Glycol","y":410},{"x":4.8,"s":"Glycol","y":418},{"x":4.9,"s":"Glycol","y":398},{"x":5.0,"s":"Glycol","y":406},{"x":5.1,"s":"Glycol","y":385},{"x":5.2,"s":"Glycol","y":395},{"x":5.3,"s":"Glycol","y":378},{"x":5.4,"s":"Glycol","y":388},{"x":5.5,"s":"Glycol","y":374},{"x":5.6,"s":"Glycol","y":392},{"x":5.7,"s":"Glycol","y":380},{"x":5.8,"s":"Glycol","y":400},{"x":5.9,"s":"Glycol","y":388},{"x":6.0,"s":"Glycol","y":408},{"x":6.1,"s":"Glycol","y":400},{"x":6.2,"s":"Glycol","y":422},{"x":6.3,"s":"Glycol","y":418},{"x":6.4,"s":"Glycol","y":445},{"x":6.5,"s":"Glycol","y":445},{"x":6.6,"s":"Glycol","y":482},{"x":6.7,"s":"Glycol","y":492},{"x":6.8,"s":"Glycol","y":532},{"x":6.9,"s":"Glycol","y":545},{"x":7.0,"s":"Glycol","y":588},{"x":7.1,"s":"Glycol","y":608},{"x":7.2,"s":"Glycol","y":662},{"x":7.3,"s":"Glycol","y":695},{"x":7.4,"s":"Glycol","y":768},{"x":7.5,"s":"Glycol","y":825},{"x":7.6,"s":"Glycol","y":928},{"x":7.7,"s":"Glycol","y":1005},{"x":7.8,"s":"Glycol","y":1098},{"x":7.9,"s":"Glycol","y":1195},{"x":8.0,"s":"Glycol","y":1300},{"x":8.1,"s":"Glycol","y":1245},{"x":8.2,"s":"Glycol","y":1155},{"x":8.3,"s":"Glycol","y":1005},{"x":8.4,"s":"Glycol","y":875},{"x":8.5,"s":"Glycol","y":735},{"x":8.6,"s":"Glycol","y":625},{"x":8.7,"s":"Glycol","y":525},{"x":8.8,"s":"Glycol","y":465},{"x":8.9,"s":"Glycol","y":395},{"x":9.0,"s":"Glycol","y":365},{"x":9.1,"s":"Glycol","y":325},{"x":9.2,"s":"Glycol","y":310},{"x":9.3,"s":"Glycol","y":280},{"x":9.4,"s":"Glycol","y":270},{"x":9.5,"s":"Glycol","y":240},{"x":9.6,"s":"Glycol","y":235},{"x":9.7,"s":"Glycol","y":212},{"x":9.8,"s":"Glycol","y":212},{"x":9.9,"s":"Glycol","y":192},{"x":10.0,"s":"Glycol","y":194},{"x":10.1,"s":"Glycol","y":192},{"x":10.2,"s":"Glycol","y":240},{"x":10.3,"s":"Glycol","y":480},{"x":10.4,"s":"Glycol","y":380},{"x":10.5,"s":"Glycol","y":190},{"x":10.6,"s":"Glycol","y":150},{"x":10.7,"s":"Glycol","y":142},{"x":10.8,"s":"Glycol","y":130},{"x":10.9,"s":"Glycol","y":128},{"x":11.0,"s":"Glycol","y":118},{"x":11.1,"s":"Glycol","y":122},{"x":11.2,"s":"Glycol","y":112},{"x":11.3,"s":"Glycol","y":118},{"x":11.4,"s":"Glycol","y":108},{"x":11.5,"s":"Glycol","y":114},{"x":11.6,"s":"Glycol","y":106},{"x":11.7,"s":"Glycol","y":112},{"x":11.8,"s":"Glycol","y":108},{"x":11.9,"s":"Glycol","y":118},{"x":12.0,"s":"Glycol","y":145}
],
"p5":[
{"x":3.0,"s":"25oC","y":745},{"x":3.1,"s":"25oC","y":695},{"x":3.2,"s":"25oC","y":675},{"x":3.3,"s":"25oC","y":640},{"x":3.4,"s":"25oC","y":635},{"x":3.5,"s":"25oC","y":600},{"x":3.6,"s":"25oC","y":600},{"x":3.7,"s":"25oC","y":570},{"x":3.8,"s":"25oC","y":570},{"x":3.9,"s":"25oC","y":540},{"x":4.0,"s":"25oC","y":545},{"x":4.1,"s":"25oC","y":515},{"x":4.2,"s":"25oC","y":515},{"x":4.3,"s":"25oC","y":488},{"x":4.4,"s":"25oC","y":492},{"x":4.5,"s":"25oC","y":470},{"x":4.6,"s":"25oC","y":475},{"x":4.7,"s":"25oC","y":450},{"x":4.8,"s":"25oC","y":460},{"x":4.9,"s":"25oC","y":435},{"x":5.0,"s":"25oC","y":445},{"x":5.1,"s":"25oC","y":420},{"x":5.2,"s":"25oC","y":440},{"x":5.3,"s":"25oC","y":415},{"x":5.4,"s":"25oC","y":432},{"x":5.5,"s":"25oC","y":420},{"x":5.6,"s":"25oC","y":440},{"x":5.7,"s":"25oC","y":418},{"x":5.8,"s":"25oC","y":442},{"x":5.9,"s":"25oC","y":428},{"x":6.0,"s":"25oC","y":448},{"x":6.1,"s":"25oC","y":438},{"x":6.2,"s":"25oC","y":462},{"x":6.3,"s":"25oC","y":452},{"x":6.4,"s":"25oC","y":475},{"x":6.5,"s":"25oC","y":472},{"x":6.6,"s":"25oC","y":500},{"x":6.7,"s":"25oC","y":505},{"x":6.8,"s":"25oC","y":535},{"x":6.9,"s":"25oC","y":550},{"x":7.0,"s":"25oC","y":590},{"x":7.1,"s":"25oC","y":612},{"x":7.2,"s":"25oC","y":662},{"x":7.3,"s":"25oC","y":698},{"x":7.4,"s":"25oC","y":765},{"x":7.5,"s":"25oC","y":815},{"x":7.6,"s":"25oC","y":885},{"x":7.7,"s":"25oC","y":955},{"x":7.8,"s":"25oC","y":1055},{"x":7.9,"s":"25oC","y":1140},{"x":8.0,"s":"25oC","y":1235},{"x":8.1,"s":"25oC","y":1175},{"x":8.2,"s":"25oC","y":1105},{"x":8.3,"s":"25oC","y":995},{"x":8.4,"s":"25oC","y":865},{"x":8.5,"s":"25oC","y":715},{"x":8.6,"s":"25oC","y":605},{"x":8.7,"s":"25oC","y":495},{"x":8.8,"s":"25oC","y":435},{"x":8.9,"s":"25oC","y":365},{"x":9.0,"s":"25oC","y":335},{"x":9.1,"s":"25oC","y":295},{"x":9.2,"s":"25oC","y":280},{"x":9.3,"s":"25oC","y":255},{"x":9.4,"s":"25oC","y":250},{"x":9.5,"s":"25oC","y":225},{"x":9.6,"s":"25oC","y":160},{"x":9.7,"s":"25oC","y":210},{"x":9.8,"s":"25oC","y":192},{"x":9.9,"s":"25oC","y":198},{"x":10.0,"s":"25oC","y":185},{"x":10.1,"s":"25oC","y":200},{"x":10.2,"s":"25oC","y":262},{"x":10.3,"s":"25oC","y":390},{"x":10.4,"s":"25oC","y":210},{"x":10.5,"s":"25oC","y":145},{"x":10.6,"s":"25oC","y":135},{"x":10.7,"s":"25oC","y":122},{"x":10.8,"s":"25oC","y":128},{"x":10.9,"s":"25oC","y":116},{"x":11.0,"s":"25oC","y":124},{"x":11.1,"s":"25oC","y":112},{"x":11.2,"s":"25oC","y":120},{"x":11.3,"s":"25oC","y":108},{"x":11.4,"s":"25oC","y":116},{"x":11.5,"s":"25oC","y":106},{"x":11.6,"s":"25oC","y":112},{"x":11.7,"s":"25oC","y":100},{"x":11.8,"s":"25oC","y":108},{"x":11.9,"s":"25oC","y":85},{"x":12.0,"s":"25oC","y":104},
{"x":3.1,"s":"Série2","y":725},{"x":3.2,"s":"Série2","y":700},{"x":3.3,"s":"Série2","y":685},{"x":3.4,"s":"Série2","y":655},{"x":3.5,"s":"Série2","y":645},{"x":3.6,"s":"Série2","y":618},{"x":3.7,"s":"Série2","y":610},{"x":3.8,"s":"Série2","y":585},{"x":3.9,"s":"Série2","y":580},{"x":4.0,"s":"Série2","y":555},{"x":4.1,"s":"Série2","y":552},{"x":4.2,"s":"Série2","y":530},{"x":4.3,"s":"Série2","y":528},{"x":4.4,"s":"Série2","y":505},{"x":4.5,"s":"Série2","y":505},{"x":4.6,"s":"Série2","y":485},{"x":4.7,"s":"Série2","y":490},{"x":4.8,"s":"Série2","y":472},{"x":4.9,"s":"Série2","y":482},{"x":5.0,"s":"Série2","y":465},{"x":5.1,"s":"Série2","y":478},{"x":5.2,"s":"Série2","y":460},{"x":5.3,"s":"Série2","y":480},{"x":5.4,"s":"Série2","y":462},{"x":5.5,"s":"Série2","y":482},{"x":5.6,"s":"Série2","y":465},{"x":5.7,"s":"Série2","y":484},{"x":5.8,"s":"Série2","y":468},{"x":5.9,"s":"Série2","y":488},{"x":6.0,"s":"Série2","y":472},{"x":6.1,"s":"Série2","y":492},{"x":6.2,"s":"Série2","y":482},{"x":6.3,"s":"Série2","y":502},{"x":6.4,"s":"Série2","y":495},{"x":6.5,"s":"Série2","y":515},{"x":6.6,"s":"Série2","y":520},{"x":6.7,"s":"Série2","y":545},{"x":6.8,"s":"Série2","y":552},{"x":6.9,"s":"Série2","y":582},{"x":7.0,"s":"Série2","y":598},{"x":7.1,"s":"Série2","y":642},{"x":7.2,"s":"Série2","y":672},{"x":7.3,"s":"Série2","y":728},{"x":7.4,"s":"Série2","y":772},{"x":7.5,"s":"Série2","y":838},{"x":7.6,"s":"Série2","y":896},{"x":7.7,"s":"Série2","y":985},{"x":7.8,"s":"Série2","y":1045},{"x":7.9,"s":"Série2","y":1115},{"x":8.0,"s":"Série2","y":1135},{"x":8.1,"s":"Série2","y":1125},{"x":8.2,"s":"Série2","y":1045},{"x":8.3,"s":"Série2","y":955},{"x":8.4,"s":"Série2","y":795},{"x":8.5,"s":"Série2","y":655},{"x":8.6,"s":"Série2","y":545},{"x":8.7,"s":"Série2","y":475},{"x":8.8,"s":"Série2","y":410},{"x":8.9,"s":"Série2","y":380},{"x":9.0,"s":"Série2","y":335},{"x":9.1,"s":"Série2","y":320},{"x":9.2,"s":"Série2","y":280},{"x":9.3,"s":"Série2","y":265},{"x":9.4,"s":"Série2","y":240},{"x":9.5,"s":"Série2","y":240},{"x":9.6,"s":"Série2","y":220},{"x":9.7,"s":"Série2","y":220},{"x":9.8,"s":"Série2","y":202},{"x":9.9,"s":"Série2","y":210},{"x":10.0,"s":"Série2","y":196},{"x":10.1,"s":"Série2","y":212},{"x":10.2,"s":"Série2","y":270},{"x":10.3,"s":"Série2","y":380},{"x":10.4,"s":"Série2","y":215},{"x":10.5,"s":"Série2","y":150},{"x":10.6,"s":"Série2","y":145},{"x":10.7,"s":"Série2","y":130},{"x":10.8,"s":"Série2","y":138},{"x":10.9,"s":"Série2","y":124},{"x":11.0,"s":"Série2","y":136},{"x":11.1,"s":"Série2","y":122},{"x":11.2,"s":"Série2","y":130},{"x":11.3,"s":"Série2","y":118},{"x":11.4,"s":"Série2","y":126},{"x":11.5,"s":"Série2","y":114},{"x":11.6,"s":"Série2","y":122},{"x":11.7,"s":"Série2","y":110},{"x":11.8,"s":"Série2","y":118},{"x":11.9,"s":"Série2","y":106},{"x":12.0,"s":"Série2","y":114}
],
"p6":[
{"x":3.0,"s":"25oC","y":690},{"x":3.1,"s":"25oC","y":645},{"x":3.2,"s":"25oC","y":635},{"x":3.3,"s":"25oC","y":600},{"x":3.4,"s":"25oC","y":600},{"x":3.5,"s":"25oC","y":565},{"x":3.6,"s":"25oC","y":570},{"x":3.7,"s":"25oC","y":535},{"x":3.8,"s":"25oC","y":540},{"x":3.9,"s":"25oC","y":505},{"x":4.0,"s":"25oC","y":510},{"x":4.1,"s":"25oC","y":480},{"x":4.2,"s":"25oC","y":488},{"x":4.3,"s":"25oC","y":455},{"x":4.4,"s":"25oC","y":462},{"x":4.5,"s":"25oC","y":432},{"x":4.6,"s":"25oC","y":442},{"x":4.7,"s":"25oC","y":415},{"x":4.8,"s":"25oC","y":425},{"x":4.9,"s":"25oC","y":398},{"x":5.0,"s":"25oC","y":410},{"x":5.1,"s":"25oC","y":385},{"x":5.2,"s":"25oC","y":400},{"x":5.3,"s":"25oC","y":376},{"x":5.4,"s":"25oC","y":392},{"x":5.5,"s":"25oC","y":372},{"x":5.6,"s":"25oC","y":392},{"x":5.7,"s":"25oC","y":376},{"x":5.8,"s":"25oC","y":396},{"x":5.9,"s":"25oC","y":380},{"x":6.0,"s":"25oC","y":400},{"x":6.1,"s":"25oC","y":392},{"x":6.2,"s":"25oC","y":420},{"x":6.3,"s":"25oC","y":412},{"x":6.4,"s":"25oC","y":445},{"x":6.5,"s":"25oC","y":442},{"x":6.6,"s":"25oC","y":478},{"x":6.7,"s":"25oC","y":482},{"x":6.8,"s":"25oC","y":518},{"x":6.9,"s":"25oC","y":528},{"x":7.0,"s":"25oC","y":568},{"x":7.1,"s":"25oC","y":592},{"x":7.2,"s":"25oC","y":658},{"x":7.3,"s":"25oC","y":692},{"x":7.4,"s":"25oC","y":768},{"x":7.5,"s":"25oC","y":822},{"x":7.6,"s":"25oC","y":908},{"x":7.7,"s":"25oC","y":962},{"x":7.8,"s":"25oC","y":1038},{"x":7.9,"s":"25oC","y":1082},{"x":8.0,"s":"25oC","y":1105},{"x":8.1,"s":"25oC","y":1045},{"x":8.2,"s":"25oC","y":975},{"x":8.3,"s":"25oC","y":865},{"x":8.4,"s":"25oC","y":745},{"x":8.5,"s":"25oC","y":615},{"x":8.6,"s":"25oC","y":515},{"x":8.7,"s":"25oC","y":415},{"x":8.8,"s":"25oC","y":365},{"x":8.9,"s":"25oC","y":315},{"x":9.0,"s":"25oC","y":295},{"x":9.1,"s":"25oC","y":260},{"x":9.2,"s":"25oC","y":250},{"x":9.3,"s":"25oC","y":225},{"x":9.4,"s":"25oC","y":225},{"x":9.5,"s":"25oC","y":205},{"x":9.6,"s":"25oC","y":205},{"x":9.7,"s":"25oC","y":185},{"x":9.8,"s":"25oC","y":186},{"x":9.9,"s":"25oC","y":172},{"x":10.0,"s":"25oC","y":176},{"x":10.1,"s":"25oC","y":200},{"x":10.2,"s":"25oC","y":285},{"x":10.3,"s":"25oC","y":230},{"x":10.4,"s":"25oC","y":150},{"x":10.5,"s":"25oC","y":115},{"x":10.6,"s":"25oC","y":120},{"x":10.7,"s":"25oC","y":108},{"x":10.8,"s":"25oC","y":114},{"x":10.9,"s":"25oC","y":106},{"x":11.0,"s":"25oC","y":112},{"x":11.1,"s":"25oC","y":102},{"x":11.2,"s":"25oC","y":108},{"x":11.3,"s":"25oC","y":98},{"x":11.4,"s":"25oC","y":104},{"x":11.5,"s":"25oC","y":94},{"x":11.6,"s":"25oC","y":100},{"x":11.7,"s":"25oC","y":92},{"x":11.8,"s":"25oC","y":97},{"x":11.9,"s":"25oC","y":88},{"x":12.0,"s":"25oC","y":92},
{"x":3.0,"s":"Glycol","y":565},{"x":3.1,"s":"Glycol","y":535},{"x":3.2,"s":"Glycol","y":525},{"x":3.3,"s":"Glycol","y":500},{"x":3.4,"s":"Glycol","y":495},{"x":3.5,"s":"Glycol","y":475},{"x":3.6,"s":"Glycol","y":475},{"x":3.7,"s":"Glycol","y":455},{"x":3.8,"s":"Glycol","y":460},{"x":3.9,"s":"Glycol","y":440},{"x":4.0,"s":"Glycol","y":445},{"x":4.1,"s":"Glycol","y":425},{"x":4.2,"s":"Glycol","y":430},{"x":4.3,"s":"Glycol","y":408},{"x":4.4,"s":"Glycol","y":412},{"x":4.5,"s":"Glycol","y":394},{"x":4.6,"s":"Glycol","y":398},{"x":4.7,"s":"Glycol","y":380},{"x":4.8,"s":"Glycol","y":386},{"x":4.9,"s":"Glycol","y":368},{"x":5.0,"s":"Glycol","y":376},{"x":5.1,"s":"Glycol","y":360},{"x":5.2,"s":"Glycol","y":372},{"x":5.3,"s":"Glycol","y":358},{"x":5.4,"s":"Glycol","y":372},{"x":5.5,"s":"Glycol","y":360},{"x":5.6,"s":"Glycol","y":372},{"x":5.7,"s":"Glycol","y":360},{"x":5.8,"s":"Glycol","y":374},{"x":5.9,"s":"Glycol","y":362},{"x":6.0,"s":"Glycol","y":378},{"x":6.1,"s":"Glycol","y":374},{"x":6.2,"s":"Glycol","y":396},{"x":6.3,"s":"Glycol","y":394},{"x":6.4,"s":"Glycol","y":416},{"x":6.5,"s":"Glycol","y":416},{"x":6.6,"s":"Glycol","y":450},{"x":6.7,"s":"Glycol","y":465},{"x":6.8,"s":"Glycol","y":505},{"x":6.9,"s":"Glycol","y":525},{"x":7.0,"s":"Glycol","y":565},{"x":7.1,"s":"Glycol","y":590},{"x":7.2,"s":"Glycol","y":640},{"x":7.3,"s":"Glycol","y":675},{"x":7.4,"s":"Glycol","y":745},{"x":7.5,"s":"Glycol","y":795},{"x":7.6,"s":"Glycol","y":875},{"x":7.7,"s":"Glycol","y":925},{"x":7.8,"s":"Glycol","y":985},{"x":7.9,"s":"Glycol","y":985},{"x":8.0,"s":"Glycol","y":955},{"x":8.1,"s":"Glycol","y":895},{"x":8.2,"s":"Glycol","y":815},{"x":8.3,"s":"Glycol","y":695},{"x":8.4,"s":"Glycol","y":595},{"x":8.5,"s":"Glycol","y":475},{"x":8.6,"s":"Glycol","y":405},{"x":8.7,"s":"Glycol","y":325},{"x":8.8,"s":"Glycol","y":295},{"x":8.9,"s":"Glycol","y":255},{"x":9.0,"s":"Glycol","y":245},{"x":9.1,"s":"Glycol","y":220},{"x":9.2,"s":"Glycol","y":218},{"x":9.3,"s":"Glycol","y":202},{"x":9.4,"s":"Glycol","y":204},{"x":9.5,"s":"Glycol","y":188},{"x":9.6,"s":"Glycol","y":188},{"x":9.7,"s":"Glycol","y":174},{"x":9.8,"s":"Glycol","y":175},{"x":9.9,"s":"Glycol","y":166},{"x":10.0,"s":"Glycol","y":174},{"x":10.1,"s":"Glycol","y":200},{"x":10.2,"s":"Glycol","y":270},{"x":10.3,"s":"Glycol","y":220},{"x":10.4,"s":"Glycol","y":140},{"x":10.5,"s":"Glycol","y":106},{"x":10.6,"s":"Glycol","y":112},{"x":10.7,"s":"Glycol","y":102},{"x":10.8,"s":"Glycol","y":108},{"x":10.9,"s":"Glycol","y":98},{"x":11.0,"s":"Glycol","y":104},{"x":11.1,"s":"Glycol","y":96},{"x":11.2,"s":"Glycol","y":102},{"x":11.3,"s":"Glycol","y":93},{"x":11.4,"s":"Glycol","y":100},{"x":11.5,"s":"Glycol","y":92},{"x":11.6,"s":"Glycol","y":97},{"x":11.7,"s":"Glycol","y":90},{"x":11.8,"s":"Glycol","y":96},{"x":11.9,"s":"Glycol","y":88},{"x":12.0,"s":"Glycol","y":92}
]
},
"config":{
"view":{"stroke":null},
"font":"Lato",
"axis":{"grid":false,"ticks":false,"domainColor":"#D9D9D9","domainWidth":1,"labelColor":"#595959","titleColor":"#595959","labelFont":"Lato","titleFont":"Lato","labelFlush":false,"titleFontWeight":"normal","labelOverlap":false},
"legend":{"symbolType":"stroke","symbolStrokeWidth":2.5,"symbolSize":1000,"labelColor":"#595959","labelFont":"Lato","direction":"vertical","labelOffset":2},
"text":{"color":"#404040","font":"Lato"}
}
}
